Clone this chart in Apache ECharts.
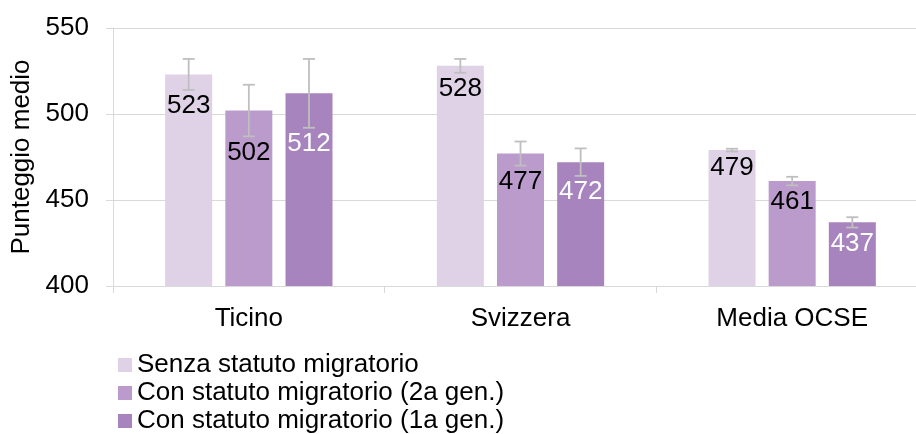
<!DOCTYPE html>
<html><head><meta charset="utf-8">
<script src="https://cdn.jsdelivr.net/npm/echarts/dist/echarts.min.js"></script>
<style>html,body{margin:0;padding:0;background:#fff}#c{width:916px;height:434px}</style>
</head><body><div id="c"></div>
<script>
const categories = ['Ticino', 'Svizzera', 'Media OCSE'];
const seriesNames = ['Senza statuto migratorio', 'Con statuto migratorio (2a gen.)', 'Con statuto migratorio (1a gen.)'];
const senza = [523, 528, 479];
const gen2 = [502, 477, 461];
const gen1 = [512, 472, 437];
const errSenza = [9, 4, 0.8];
const errGen2 = [15, 7, 2.5];
const errGen1 = [20, 8, 3];
const yMin = 400, yMax = 550, yStep = 50;

const FONT = '"Liberation Sans", Arial, sans-serif';
const colors = ['#DFD2E7', '#BA9BCB', '#A884BE'];
const labelColors = ['#000000', '#000000', '#FFFFFF'];
const BAR_W = 47, BAR_GAP = 0.28;
const STEP = BAR_W * (1 + BAR_GAP);
const GRAY = '#D9D9D9', ERR = '#BFBFBF';

function barSeries(i, vals) {
  return {
    type: 'bar', name: seriesNames[i], data: vals,
    barWidth: BAR_W, barGap: (BAR_GAP * 100) + '%',
    itemStyle: { color: colors[i] }, z: 2, silent: true
  };
}
function errSeries(i, vals, errs) {
  return {
    type: 'custom', name: 'err' + i, z: 5, silent: true,
    data: vals.map((v, k) => [k, v, errs[k]]),
    encode: { x: 0, y: 1 },
    renderItem: function (params, api) {
      const c = api.value(0), v = api.value(1), e = api.value(2);
      const off = (i - 1) * STEP;
      const top = api.coord([c, v + e]);
      const bot = api.coord([c, v - e]);
      const bar = api.coord([c, v]);
      const x = top[0] + off;
      const capTop = Math.max(bar[1] + 8, bot[1] + 6);
      const ls = { stroke: ERR, lineWidth: 1.8 };
      return { type: 'group', children: [
        { type: 'line', shape: { x1: x, y1: top[1], x2: x, y2: bot[1] }, style: ls },
        { type: 'line', shape: { x1: x - 6, y1: top[1], x2: x + 6, y2: top[1] }, style: ls },
        { type: 'line', shape: { x1: x - 6, y1: bot[1], x2: x + 6, y2: bot[1] }, style: ls },
        { type: 'text', x: x, y: capTop - 3, style: { text: String(v), fill: labelColors[i], fontSize: 26, fontFamily: FONT, align: 'center', verticalAlign: 'top' } }
      ]};
    }
  };
}

const chart = echarts.init(document.getElementById('c'), null, { renderer: 'canvas' });
chart.setOption({
  animation: false,
  backgroundColor: '#fff',
  textStyle: { fontFamily: FONT },
  grid: { left: 113, right: -12, top: 28, bottom: 148, containLabel: false, outerBoundsMode: 'none' },
  legend: {
    data: seriesNames, orient: 'vertical', left: 118, top: 351, height: 120, padding: 0,
    itemWidth: 14, itemHeight: 14, itemGap: 0, icon: 'rect',
    textStyle: { fontSize: 26, color: '#000', fontFamily: FONT, lineHeight: 28 },
    selectedMode: false
  },
  xAxis: {
    type: 'category', data: categories,
    axisLine: { show: true, lineStyle: { color: GRAY, width: 1 } },
    axisTick: { show: true, length: 7, lineStyle: { color: GRAY } },
    axisLabel: { fontSize: 26, color: '#000', margin: 20, fontFamily: FONT }
  },
  yAxis: {
    type: 'value', min: yMin, max: yMax, interval: yStep,
    name: 'Punteggio medio', nameLocation: 'middle', nameGap: 75, nameRotate: 90,
    nameTextStyle: { fontSize: 26, color: '#000', fontFamily: FONT },
    axisLine: { show: true, lineStyle: { color: GRAY } },
    axisTick: { show: true, length: 7, lineStyle: { color: GRAY } },
    axisLabel: { fontSize: 26, color: '#000', margin: 24, fontFamily: FONT },
    splitLine: { show: true, lineStyle: { color: GRAY, width: 1 } }
  },
  series: [
    barSeries(0, senza), barSeries(1, gen2), barSeries(2, gen1),
    errSeries(0, senza, errSenza), errSeries(1, gen2, errGen2), errSeries(2, gen1, errGen1)
  ]
});
</script>
</body></html>
